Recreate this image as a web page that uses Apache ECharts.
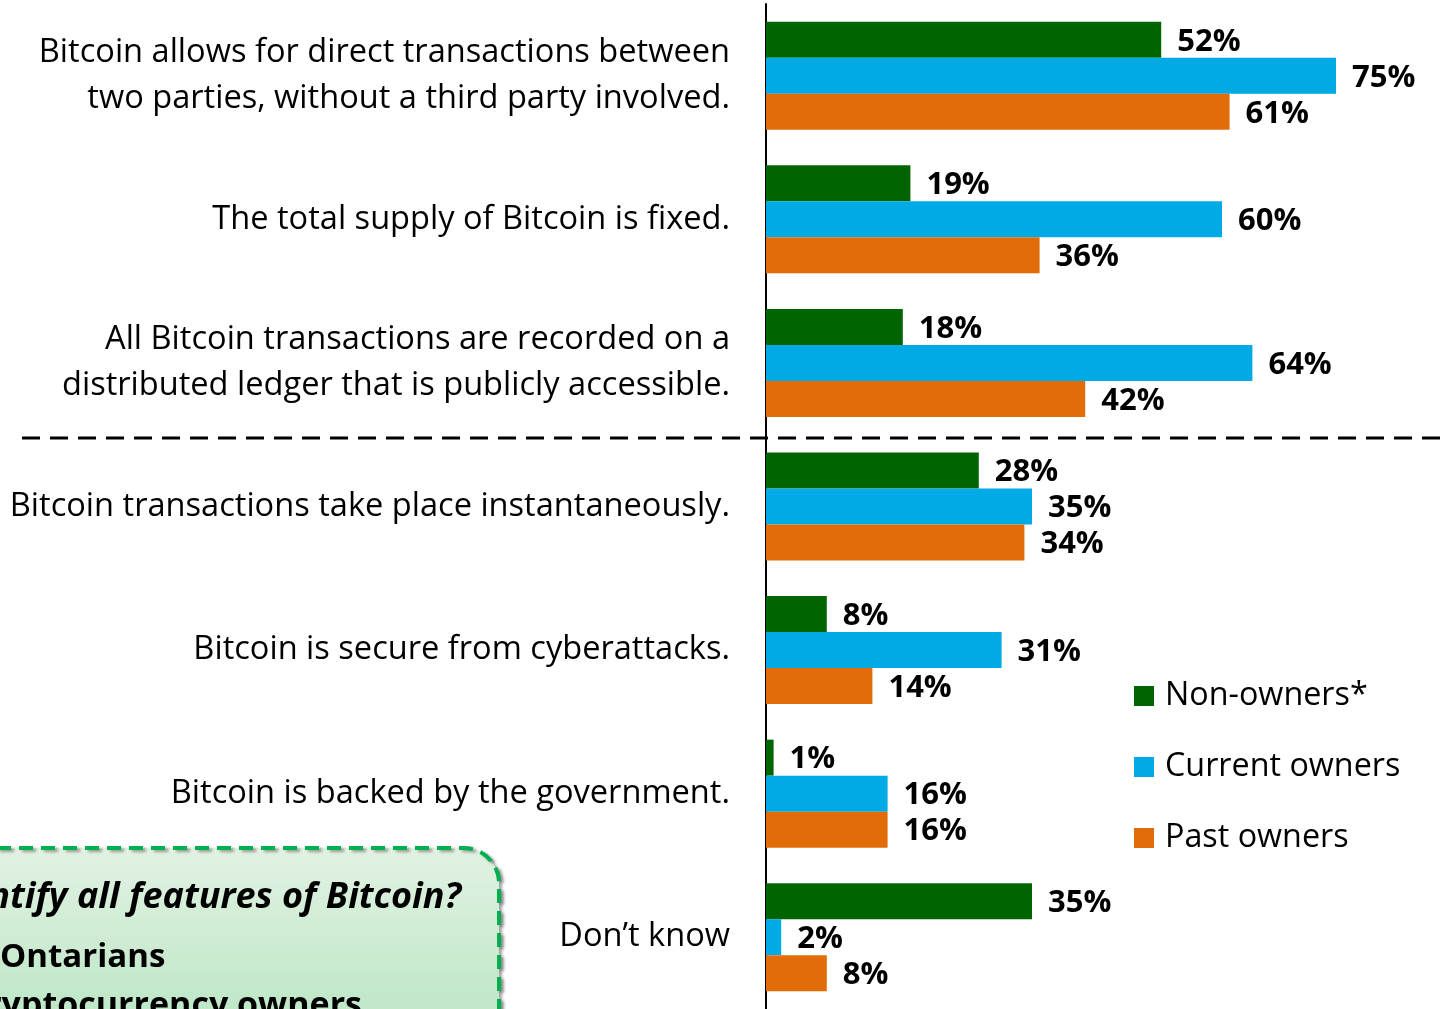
<!DOCTYPE html>
<html>
<head>
<meta charset="utf-8">
<script src="https://cdn.jsdelivr.net/npm/echarts@6/dist/echarts.min.js"></script>
<style>html,body{margin:0;padding:0;background:#fff;}#c{width:1441px;height:1009px;}</style>
</head>
<body>
<div id="c"></div>
<script>
var categories = [
  'Bitcoin allows for direct transactions between\ntwo parties, without a third party involved.',
  'The total supply of Bitcoin is fixed.',
  'All Bitcoin transactions are recorded on a\ndistributed ledger that is publicly accessible.',
  'Bitcoin transactions take place instantaneously.',
  'Bitcoin is secure from cyberattacks.',
  'Bitcoin is backed by the government.',
  'Don\u2019t know'
];
var seriesNames = ['Non-owners*', 'Current owners', 'Past owners'];
var nonOwners = [52, 19, 18, 28, 8, 1, 35];
var currentOwners = [75, 60, 64, 35, 31, 16, 2];
var pastOwners = [61, 36, 42, 34, 14, 16, 8];
var boxLines = ['Did you identify all features of Bitcoin?', 'Ontarians', 'Cryptocurrency owners'];

var FONT = '"Open Sans"';
var colors = ['#006400', '#00AAE4', '#E36C0A'];

var chart = echarts.init(document.getElementById('c'), null, {renderer: 'canvas'});
function mk(name, data, color) {
  return {
    name: name, type: 'bar', data: data, barWidth: 36, barGap: '0%',
    itemStyle: {color: color},
    label: {show: true, position: 'right', distance: 16, offset: [0, 2], formatter: '{c}%',
      fontFamily: FONT, fontWeight: 'bold', fontSize: 31, color: '#000'},
    animation: false
  };
}
chart.setOption({
  animation: false,
  textStyle: {fontFamily: FONT},
  grid: {left: 766, top: 4, width: 608, height: 1005, containLabel: false},
  xAxis: {type: 'value', min: 0, max: 80, show: false},
  yAxis: {type: 'category', data: categories, inverse: true,
    axisLine: {show: true, lineStyle: {color: '#000', width: 2}},
    axisTick: {show: false},
    axisLabel: {fontFamily: FONT, fontSize: 32.6, lineHeight: 46, color: '#000', margin: 36, align: 'right', padding: [3, 0, 0, 0]}
  },
  legend: {orient: 'vertical', left: 1129, top: 673, itemWidth: 20, itemHeight: 20, itemGap: 35, icon: 'rect',
    textStyle: {fontFamily: FONT, fontSize: 32.3, color: '#000', lineHeight: 36, padding: [0, 0, 0, 6]},
    data: seriesNames},
  series: [mk(seriesNames[0], nonOwners, colors[0]), mk(seriesNames[1], currentOwners, colors[1]), mk(seriesNames[2], pastOwners, colors[2])],
  graphic: [
    {type: 'line', shape: {x1: 22, y1: 438, x2: 1441, y2: 438}, style: {stroke: '#000', lineWidth: 3, lineDash: [18, 10]}, z: 10},
    {type: 'rect', shape: {x: -60, y: 848, width: 559, height: 240, r: 35},
      style: {fill: new echarts.graphic.LinearGradient(0, 0, 0, 1, [{offset: 0, color: '#E2F2E2'}, {offset: 1, color: '#AEE2BC'}]),
        stroke: '#00B050', lineWidth: 4, lineDash: [14, 8], shadowColor: 'rgba(0,0,0,0.35)', shadowOffsetX: 3, shadowOffsetY: 2, shadowBlur: 3}, z: 5},
    {type: 'text', x: 461, y: 898, style: {text: boxLines[0], align: 'right', verticalAlign: 'middle', font: 'italic bold 36px ' + FONT, fill: '#000'}, z: 6},
    {type: 'text', x: 0, y: 958, style: {text: boxLines[1], align: 'left', verticalAlign: 'middle', font: 'bold 33px ' + FONT, fill: '#000'}, z: 6},
    {type: 'text', x: 362, y: 1006, style: {text: boxLines[2], align: 'right', verticalAlign: 'middle', font: 'bold 34px ' + FONT, fill: '#000'}, z: 6}
  ]
});
</script>
</body>
</html>
